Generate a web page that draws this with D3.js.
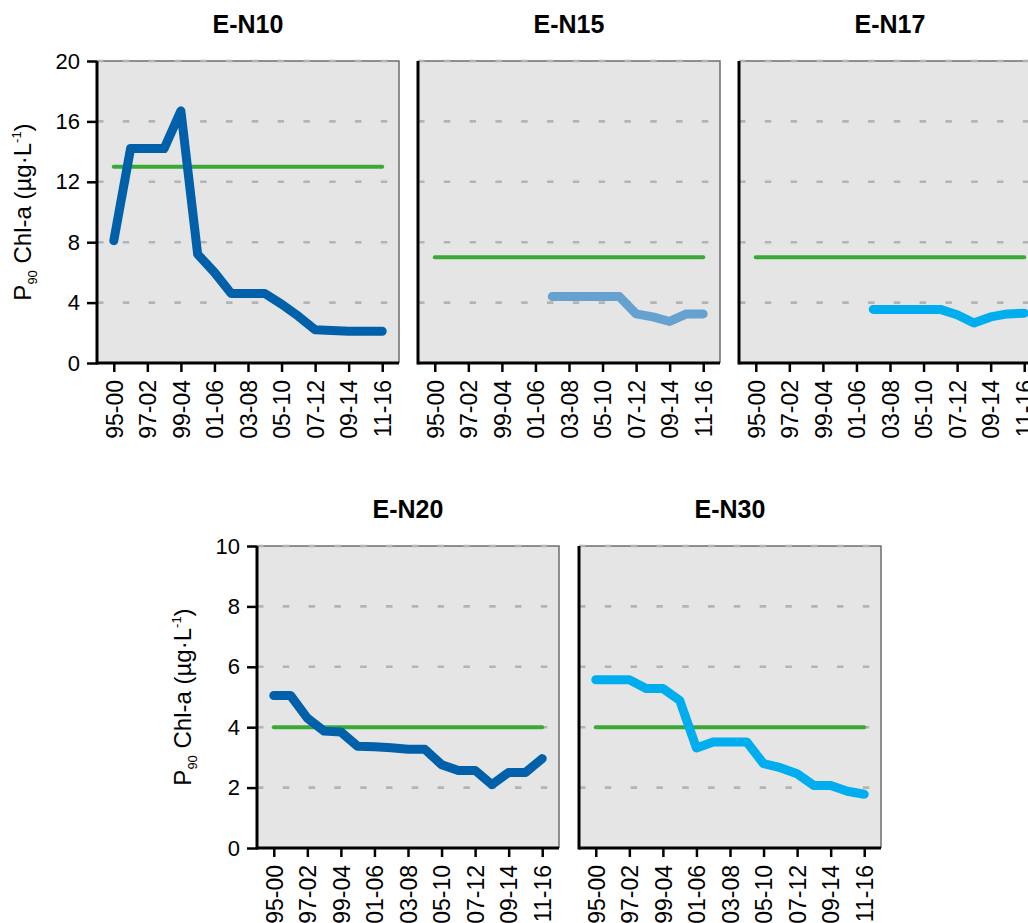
<!DOCTYPE html>
<html>
<head>
<meta charset="utf-8">
<script src="https://cdn.jsdelivr.net/npm/d3@7"></script>
<style>
  html, body { margin: 0; padding: 0; background: #ffffff; }
  svg { display: block; }
  text { font-family: "Liberation Sans", Arial, Helvetica, sans-serif; fill: #000; }
</style>
</head>
<body>
<svg id="chart" width="1028" height="923"></svg>
<script>
// ---------- data ----------
const categories = ["95-00","96-01","97-02","98-03","99-04","00-05","01-06","02-07","03-08",
                    "04-09","05-10","06-11","07-12","08-13","09-14","10-15","11-16"];
const tickLabels = ["95-00","97-02","99-04","01-06","03-08","05-10","07-12","09-14","11-16"];

const stations = ["E-N10","E-N15","E-N17","E-N20","E-N30"];

const valuesEN10 = [8.1, 14.2, 14.2, 14.2, 16.7, 7.2, 6.0, 4.6, 4.6, 4.6, 3.9, 3.1, 2.2, 2.15, 2.1, 2.1, 2.1];
const valuesEN15 = [null, null, null, null, null, null, null, 4.4, 4.4, 4.4, 4.4, 4.4, 3.25, 3.05, 2.75, 3.25, 3.25];
const valuesEN17 = [null, null, null, null, null, null, null, 3.55, 3.55, 3.55, 3.55, 3.55, 3.2, 2.65, 3.05, 3.25, 3.3];
const valuesEN20 = [5.05, 5.05, 4.3, 3.87, 3.84, 3.37, 3.35, 3.32, 3.27, 3.27, 2.76, 2.57, 2.57, 2.1, 2.5, 2.5, 2.96];
const valuesEN30 = [5.57, 5.57, 5.57, 5.28, 5.28, 4.89, 3.31, 3.51, 3.51, 3.51, 2.79, 2.66, 2.46, 2.07, 2.07, 1.88, 1.78];

const thresholds = [13, 7, 7, 4, 4];

const yTicksTop = [0, 4, 8, 12, 16, 20];
const yTicksBottom = [0, 2, 4, 6, 8, 10];

const lineColors = ["#0060a9", "#65a2d0", "#00aeef", "#0060a9", "#00aeef"];
const thresholdColor = "#3aaa35";

// ---------- layout ----------
const W = 302, H = 302;
const panels = [
  { name: stations[0], values: valuesEN10, thr: thresholds[0], color: lineColors[0], x: 97,  y: 61,  ticks: yTicksTop,    showY: true  },
  { name: stations[1], values: valuesEN15, thr: thresholds[1], color: lineColors[1], x: 418, y: 61,  ticks: yTicksTop,    showY: false },
  { name: stations[2], values: valuesEN17, thr: thresholds[2], color: lineColors[2], x: 739, y: 61,  ticks: yTicksTop,    showY: false },
  { name: stations[3], values: valuesEN20, thr: thresholds[3], color: lineColors[3], x: 257, y: 546, ticks: yTicksBottom, showY: true  },
  { name: stations[4], values: valuesEN30, thr: thresholds[4], color: lineColors[4], x: 579, y: 546, ticks: yTicksBottom, showY: false }
];

const svg = d3.select("#chart");
const FONT = "'Liberation Sans', Arial, sans-serif";

panels.forEach(p => {
  const g = svg.append("g").attr("transform", `translate(${p.x},${p.y})`);
  const x = d3.scalePoint().domain(categories).range([0, W]).padding(1);
  const yMax = p.ticks[p.ticks.length - 1];
  const y = d3.scaleLinear().domain([0, yMax]).range([H, 0]);

  // background
  g.append("rect").attr("x", 0).attr("y", 0).attr("width", W).attr("height", H).attr("fill", "#e5e5e5");

  // top & right border
  g.append("path").attr("d", `M0,0H${W}V${H}`).attr("fill", "none")
    .attr("stroke", "#6e6e6e").attr("stroke-width", 1.5);

  // gridlines
  g.selectAll("line.grid").data(p.ticks.filter(t => t > 0)).enter().append("line")
    .attr("class", "grid")
    .attr("x1", 0).attr("x2", W)
    .attr("y1", d => y(d)).attr("y2", d => y(d))
    .attr("stroke", "#b4b4b4").attr("stroke-width", 2.6)
    .attr("stroke-dasharray", "6.5,19.3");

  // threshold line
  const thrLine = d3.line().x(d => x(d)).y(() => y(p.thr));
  g.append("path").datum([categories[0], categories[categories.length - 1]])
    .attr("d", thrLine).attr("fill", "none")
    .attr("stroke", thresholdColor).attr("stroke-width", 4).attr("stroke-linecap", "round");

  // data line
  const line = d3.line()
    .defined(d => d.v != null)
    .x(d => x(d.c)).y(d => y(d.v));
  g.append("path").datum(categories.map((c, i) => ({ c, v: p.values[i] })))
    .attr("d", line).attr("fill", "none")
    .attr("stroke", p.color).attr("stroke-width", 9)
    .attr("stroke-linecap", "round").attr("stroke-linejoin", "round");

  // x axis
  const xAxis = d3.axisBottom(x).tickValues(tickLabels).tickSize(9).tickSizeOuter(0);
  const xg = g.append("g").attr("transform", `translate(0,${H})`).call(xAxis);
  xg.select(".domain").attr("stroke", "#000").attr("stroke-width", 3).attr("d", `M0,0H${W}`);
  xg.selectAll(".tick line").attr("stroke", "#000").attr("stroke-width", 2.5);
  xg.selectAll(".tick text")
    .attr("y", 0).attr("x", -17).attr("dy", "0.36em")
    .attr("transform", "rotate(-90)")
    .style("text-anchor", "end")
    .style("font-size", "23px")
    .style("font-family", FONT)
    .attr("fill", "#000");

  // y axis
  if (p.showY) {
    const yAxis = d3.axisLeft(y).tickValues(p.ticks).tickSize(10).tickPadding(7).tickSizeOuter(0);
    const yg = g.append("g").call(yAxis);
    yg.selectAll(".tick line").attr("stroke", "#000").attr("stroke-width", 2.5);
    yg.selectAll(".tick text").style("font-size", "22px")
      .style("font-family", FONT).attr("fill", "#000");
    yg.select(".domain").remove();

    // y axis title
    const t = g.append("text")
      .attr("transform", `translate(-66,${H / 2}) rotate(-90)`)
      .attr("text-anchor", "middle")
      .style("font-size", "24px");
    t.append("tspan").text("P");
    t.append("tspan").text("90").style("font-size", "13px").attr("dy", 6);
    t.append("tspan").text(" Chl-a (µg·L").attr("dy", -6);
    t.append("tspan").text("-1").style("font-size", "13px").attr("dy", -10);
    t.append("tspan").text(")").attr("dy", 10);
  }
  // left axis line
  g.append("line").attr("x1", 0).attr("x2", 0).attr("y1", 0).attr("y2", H + 1.5)
    .attr("stroke", "#000").attr("stroke-width", 3);

  // title
  g.append("text").attr("x", W / 2).attr("y", -28)
    .attr("text-anchor", "middle")
    .style("font-size", "25px").style("font-weight", "bold")
    .text(p.name);
});
</script>
</body>
</html>
